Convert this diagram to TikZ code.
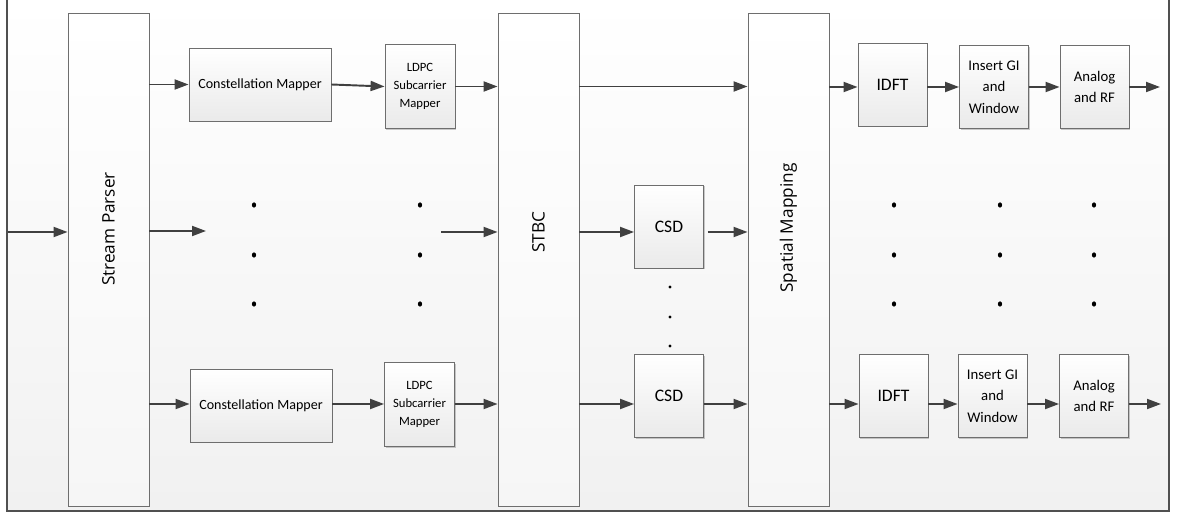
\documentclass[tikz,border=0pt]{standalone}
\usepackage{fontspec}
\usepackage{tikz}
\usetikzlibrary{
  arrows.meta,
  positioning,
  shadows
}
\newfontfamily\blockfont{Carlito}
\newfontfamily\barfont{Open Sans}
\definecolor{edgegray}{RGB}{110,110,110}
\definecolor{wiregray}{RGB}{64,64,64}
\definecolor{framegray}{RGB}{80,80,80}
\definecolor{shadebot}{RGB}{234,234,234}

\begin{document}
\begin{tikzpicture}[x=0.02cm, y=-0.02cm,
  block/.style={rectangle, draw=edgegray, line width=0.5pt,
                top color=white, bottom color=shadebot,
                drop shadow={shadow xshift=0.8pt, shadow yshift=-0.8pt,
                             fill=black, opacity=0.2},
                inner sep=0pt, align=center},
  tallbar/.style={block, bottom color=gray!7,
                  minimum width=1.62cm, minimum height=9.86cm},
  barlabel/.style={rotate=90, font=\barfont\fontsize{9.8}{12}\selectfont},
  mapbox/.style={block, minimum width=2.84cm, minimum height=1.46cm,
                 font=\blockfont\fontsize{8}{10}\selectfont},
  ldpcbox/.style={block, minimum width=1.40cm, minimum height=1.68cm,
                  font=\blockfont\fontsize{7.2}{10.2}\selectfont},
  unitbox/.style={block, minimum width=1.38cm, minimum height=1.66cm,
                  font=\blockfont\fontsize{10}{12}\selectfont},
  rfbox/.style={block, minimum width=1.38cm, minimum height=1.66cm,
                font=\blockfont\fontsize{8.4}{12.2}\selectfont},
  wire/.style={-{Triangle[length=0.28cm, width=0.2cm]}, draw=wiregray,
               fill=wiregray, line width=1.1pt}
]
  \useasboundingbox (0,0) rectangle (1188,513);

  % Frame and background
  \shade[top color=white, bottom color=gray!11] (7,0) rectangle (1169,511);
  \draw[framegray, line width=0.9pt] (7,0) -- (7,511) -- (1169,511) -- (1169,0);

  % Tall blocks
  \node[tallbar] (parser) at (108.5,259.5) {};
  \node[barlabel] (parserText) at (108.5,229) {Stream Parser};

  \node[tallbar] (stbc) at (538.5,259.5) {};
  \node[barlabel] (stbcText) at (538.5,232) {STBC};

  \node[tallbar] (spatial) at (788.5,259.5) {};
  \node[barlabel] (spatialText) at (788.5,228) {Spatial Mapping};

  % First stream
  \node[mapbox] (cmA) at (260,84.5) {Constellation Mapper};
  \node[ldpcbox] (ldpcA) at (420,86.5) {LDPC\\Subcarrier\\Mapper};
  \node[unitbox] (idftA) at (892.5,84.5) {IDFT};
  \node[rfbox] (giA) at (994,87) {Insert GI\\and\\Window};
  \node[rfbox] (rfA) at (1094.5,87) {Analog\\and RF};

  % Cyclic shift blocks
  \node[unitbox] (csdA) at (669,226.5) {CSD};
  \node[unitbox] (csdB) at (669,396) {CSD};

  % Last stream
  \node[mapbox] (cmB) at (261,405.5) {Constellation Mapper};
  \node[ldpcbox] (ldpcB) at (419.5,404.5) {LDPC\\Subcarrier\\Mapper};
  \node[unitbox] (idftB) at (893.5,396) {IDFT};
  \node[rfbox] (giB) at (992.5,396) {Insert GI\\and\\Window};
  \node[rfbox] (rfB) at (1094,396) {Analog\\and RF};

  % Free ends
  \coordinate (inP) at (8,232);
  \coordinate (gapL) at (206,231);
  \coordinate (gapR) at (441,232);
  \coordinate (outA) at (1160,87);
  \coordinate (outB) at (1161,404);

  % Top row
  \draw[wire] (parser.east |- cmA.west) -- (cmA.west);
  \draw[wire] (cmA.east) -- (ldpcA.west);
  \draw[wire] (ldpcA.east) -- (ldpcA.east -| stbc.west);
  \draw[wire] (stbc.east |- ldpcA.east) -- (spatial.west |- ldpcA.east);
  \draw[wire] (spatial.east |- giA.west) -- (idftA.west |- giA.west);
  \draw[wire] (idftA.east |- giA.west) -- (giA.west);
  \draw[wire] (giA.east) -- (rfA.west);
  \draw[wire] (rfA.east) -- (outA);

  % Middle row
  \draw[wire] (inP) -- (inP -| parser.west);
  \draw[wire] (parser.east |- gapL) -- (gapL);
  \draw[wire] (gapR) -- (gapR -| stbc.west);
  \draw[wire] (stbc.east |- inP) -- (csdA.west |- inP);
  \draw[wire, shorten <=0.08cm] (csdA.east |- inP) -- (spatial.west |- inP);

  % Bottom row
  \draw[wire] (parser.east |- outB) -- (cmB.west |- outB);
  \draw[wire] (cmB.east |- outB) -- (ldpcB.west |- outB);
  \draw[wire] (ldpcB.east |- outB) -- (stbc.west |- outB);
  \draw[wire] (stbc.east |- outB) -- (csdB.west |- outB);
  \draw[wire] (csdB.east |- outB) -- (spatial.west |- outB);
  \draw[wire] (spatial.east |- outB) -- (idftB.west |- outB);
  \draw[wire] (idftB.east |- outB) -- (giB.west |- outB);
  \draw[wire] (giB.east |- outB) -- (rfB.west |- outB);
  \draw[wire] (rfB.east |- outB) -- (outB);

  % Ellipsis dots
  \foreach \x in {254,420,894,1000,1094}
    \foreach \y in {205,255,304}
      \fill (\x,\y) ellipse [x radius=1.2pt, y radius=1.5pt];
  \foreach \y in {287,317,346}
    \fill (670,\y) circle (0.9pt);
\end{tikzpicture}
\end{document}
